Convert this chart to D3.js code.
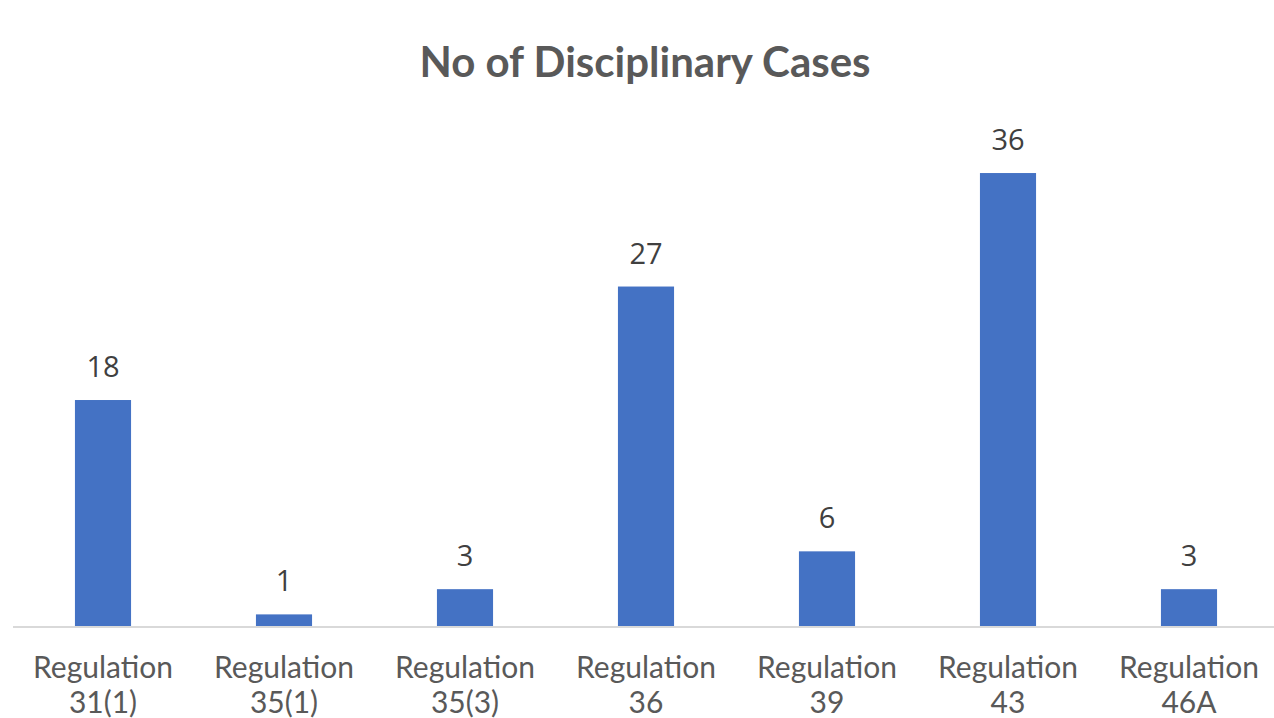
<!DOCTYPE html>
<html>
<head>
<meta charset="utf-8">
<script src="https://cdn.jsdelivr.net/npm/d3@7"></script>
<style>
  body { margin: 0; background: #fff; }
</style>
</head>
<body>
<div id="chart"></div>
<script>
// data
const categories = ["Regulation 31(1)", "Regulation 35(1)", "Regulation 35(3)", "Regulation 36", "Regulation 39", "Regulation 43", "Regulation 46A"];
const cases = [18, 1, 3, 27, 6, 36, 3];
const title = "No of Disciplinary Cases";

const width = 1274
const height = 718

const svg = d3.select("#chart")
  .append("svg")
    .attr("width", width)
    .attr("height", height);

const x = d3.scaleBand()
  .domain(categories)
  .range([12.5, 1279.5])
  .paddingInner(0.69)
  .paddingOuter(0.345);

const y = d3.scaleLinear()
  .domain([0, 40])
  .range([627, 122.6]);

// title
svg.append("text")
  .attr("x", 645)
  .attr("y", 77)
  .attr("text-anchor", "middle")
  .attr("font-family", "Lato")
  .attr("font-weight", 700)
  .attr("font-size", 42)
  .attr("fill", "#595959")
  .text(title);

// bars
svg.selectAll("rect.bar")
  .data(cases)
  .join("rect")
    .attr("class", "bar")
    .attr("x", (d, i) => x(categories[i]))
    .attr("width", x.bandwidth())
    .attr("y", d => y(d))
    .attr("height", d => y(0) - y(d))
    .attr("fill", "#4472c4");

// value labels
svg.selectAll("text.val")
  .data(cases)
  .join("text")
    .attr("class", "val")
    .attr("x", (d, i) => x(categories[i]) + x.bandwidth() / 2)
    .attr("y", d => y(d) - 23)
    .attr("text-anchor", "middle")
    .attr("font-family", "Open Sans")
    .attr("font-size", 29)
    .attr("fill", "#404040")
    .text(d => d);

// x axis
const xAxis = svg.append("g")
  .attr("transform", `translate(0,${y(0)})`)
  .call(d3.axisBottom(x).tickSize(0).tickFormat(""));
xAxis.select(".domain").attr("stroke", "#d9d9d9").attr("stroke-width", 2)
  .attr("d", `M13,0H1274`);

// category labels on two lines
const lbl = svg.selectAll("text.cat")
  .data(categories)
  .join("text")
    .attr("class", "cat")
    .attr("text-anchor", "middle")
    .attr("font-family", "Lato")
    .attr("font-size", 30)
    .attr("fill", "#595959");
lbl.each(function(d) {
  const parts = d.split(" ");
  const cx = x(d) + x.bandwidth() / 2;
  d3.select(this).append("tspan").attr("x", cx).attr("y", 678).text(parts[0]);
  d3.select(this).append("tspan").attr("x", cx).attr("y", 713).text(parts[1]);
});
</script>
</body>
</html>
